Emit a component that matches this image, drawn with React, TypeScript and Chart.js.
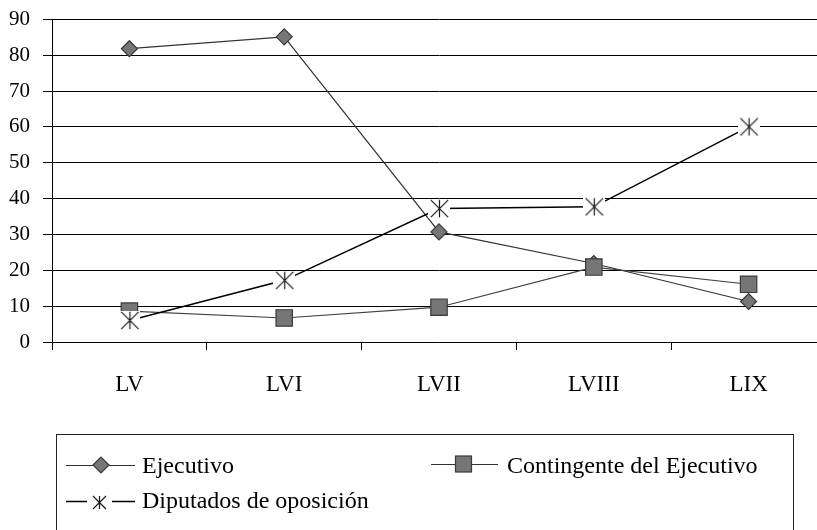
import React, { useEffect, useRef } from "react";
import { Chart, registerables } from "chart.js";

Chart.register(...registerables);

const categories = ["LV", "LVI", "LVII", "LVIII", "LIX"];
const ejecutivo = [81.8, 85.1, 30.7, 21.9, 11.3];
const contingente = [8.6, 6.7, 9.7, 20.9, 16.1];
const oposicion = [6.0, 17.2, 37.2, 37.7, 60.0];
const seriesNames = ["Ejecutivo", "Contingente del Ejecutivo", "Diputados de oposición"];
const yTicks = [0, 10, 20, 30, 40, 50, 60, 70, 80, 90];

const SERIF = "'Liberation Serif', 'Times New Roman', serif";
const MARKER_FILL = "#767676";
const MARKER_BORDER = "#3a3a3a";

function makeStar(w: number, h: number, r: number, withBg: boolean): HTMLCanvasElement {
  const c = document.createElement("canvas");
  c.width = w;
  c.height = h;
  const ctx = c.getContext("2d")!;
  if (withBg) {
    ctx.fillStyle = "#ffffff";
    ctx.fillRect(0, 0, w, h);
  }
  const cx = Math.floor(w / 2) + 0.5;
  const cy = Math.floor(h / 2) + 0.5;
  ctx.strokeStyle = "#1a1a1a";
  ctx.lineWidth = 1.2;
  ctx.beginPath();
  ctx.moveTo(cx - r, cy - r);
  ctx.lineTo(cx + r, cy + r);
  ctx.moveTo(cx + r, cy - r);
  ctx.lineTo(cx - r, cy + r);
  ctx.moveTo(cx, cy - r);
  ctx.lineTo(cx, cy + r);
  ctx.stroke();
  return c;
}

const legendPlugin = {
  id: "boxLegend",
  afterDraw(chart: any) {
    const ctx = chart.ctx as CanvasRenderingContext2D;
    ctx.save();
    ctx.strokeStyle = "#222";
    ctx.lineWidth = 1;
    ctx.strokeRect(56.5, 434.5, 737, 140);

    ctx.font = `24px ${SERIF}`;
    ctx.fillStyle = "#000";
    ctx.textBaseline = "alphabetic";
    ctx.textAlign = "left";

    // Item 1: Ejecutivo (diamond)
    ctx.strokeStyle = "#333";
    ctx.lineWidth = 1.2;
    ctx.beginPath();
    ctx.moveTo(66, 465.5);
    ctx.lineTo(135, 465.5);
    ctx.stroke();
    ctx.beginPath();
    ctx.moveTo(101 - 8, 465);
    ctx.lineTo(101, 457);
    ctx.lineTo(101 + 8, 465);
    ctx.lineTo(101, 473);
    ctx.closePath();
    ctx.fillStyle = MARKER_FILL;
    ctx.fill();
    ctx.strokeStyle = MARKER_BORDER;
    ctx.stroke();
    ctx.fillStyle = "#000";
    ctx.fillText(seriesNames[0], 142, 473);

    // Item 2: Contingente (square)
    ctx.strokeStyle = "#333";
    ctx.beginPath();
    ctx.moveTo(431, 464.5);
    ctx.lineTo(498, 464.5);
    ctx.stroke();
    ctx.fillStyle = MARKER_FILL;
    ctx.fillRect(455.5, 456, 16, 16);
    ctx.strokeStyle = MARKER_BORDER;
    ctx.strokeRect(455.5, 456, 16, 16);
    ctx.fillStyle = "#000";
    ctx.fillText(seriesNames[1], 507, 473);

    // Item 3: Diputados (star)
    ctx.strokeStyle = "#000";
    ctx.lineWidth = 1.3;
    ctx.beginPath();
    ctx.moveTo(66, 501.5);
    ctx.lineTo(87, 501.5);
    ctx.moveTo(112, 501.5);
    ctx.lineTo(135, 501.5);
    ctx.stroke();
    const st = makeStar(16, 16, 6.5, false);
    ctx.drawImage(st, 99 - 8, 502 - 8);
    ctx.fillStyle = "#000";
    ctx.fillText(seriesNames[2], 142, 508);
    ctx.restore();
  },
};

export default function App() {
  const ref = useRef<HTMLCanvasElement | null>(null);

  useEffect(() => {
    if (!ref.current) return;
    const star = makeStar(22, 19, 8.7, true);
    const chart = new Chart(ref.current, {
      type: "line",
      data: {
        labels: categories,
        datasets: [
          {
            label: seriesNames[0],
            data: ejecutivo,
            borderColor: "#333333",
            borderWidth: 1.2,
            pointStyle: "rectRot",
            pointRadius: 8,
            pointBackgroundColor: MARKER_FILL,
            pointBorderColor: MARKER_BORDER,
            pointBorderWidth: 1.2,
            tension: 0,
            order: 2,
          },
          {
            label: seriesNames[1],
            data: contingente,
            borderColor: "#404040",
            borderWidth: 1.2,
            pointStyle: "rect",
            pointRadius: 11.6,
            pointBackgroundColor: MARKER_FILL,
            pointBorderColor: MARKER_BORDER,
            pointBorderWidth: 1.2,
            tension: 0,
            order: 1,
          },
          {
            label: seriesNames[2],
            data: oposicion,
            borderColor: "#000000",
            borderWidth: 1.5,
            pointStyle: star as any,
            pointRadius: 9,
            tension: 0,
            order: 0,
          },
        ],
      },
      options: {
        responsive: false,
        animation: false,
        devicePixelRatio: 1,
        layout: { padding: { left: 0, top: 17, right: 14, bottom: 128 } },
        plugins: {
          legend: { display: false },
          tooltip: { enabled: false },
          title: { display: false },
        },
        scales: {
          x: {
            type: "category",
            offset: true,
            grid: {
              offset: true,
              drawOnChartArea: false,
              drawTicks: true,
              tickLength: 8,
              color: "#000",
              lineWidth: 1,
            },
            border: { display: true, color: "#000", width: 1 },
            ticks: {
              color: "#000",
              font: { family: SERIF, size: 23 },
              padding: 21,
              maxRotation: 0,
            },
            afterFit: (s: any) => {
              s.height = 60;
            },
          },
          y: {
            type: "linear",
            min: 0,
            max: 90,
            afterBuildTicks: (s: any) => {
              s.ticks = yTicks.map((v) => ({ value: v }));
            },
            grid: {
              color: "#000",
              lineWidth: 1,
              drawTicks: true,
              tickLength: 9,
            },
            border: { display: true, color: "#000", width: 1 },
            ticks: {
              color: "#000",
              font: { family: SERIF, size: 21, lineHeight: 0.6 },
              padding: 13,
            },
            afterFit: (s: any) => {
              s.width = 52;
            },
          },
        },
      },
      plugins: [legendPlugin],
    });
    return () => chart.destroy();
  }, []);

  return (
    <div
      style={{
        position: "fixed",
        left: 0,
        top: 0,
        width: 817,
        height: 530,
        overflow: "hidden",
        background: "#fff",
      }}
    >
      <canvas ref={ref} width={840} height={530} style={{ display: "block" }} />
    </div>
  );
}
